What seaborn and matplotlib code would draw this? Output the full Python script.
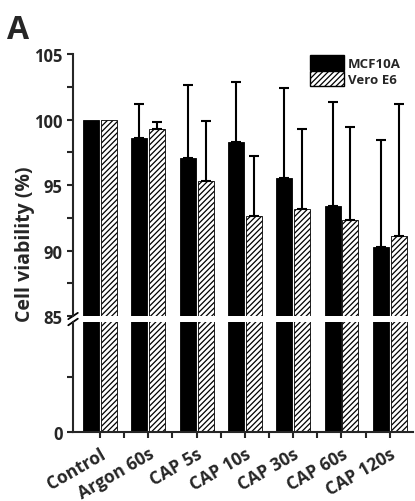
"""
Viabilité cellulaire après traitement plasma (CAP) - barres à axe coupé
"""

import numpy as np
import pandas as pd
import matplotlib
matplotlib.use("Agg")
import matplotlib.pyplot as plt
from matplotlib.patches import Patch
import seaborn as sns

# Données
groupes = ["Control", "Argon 60s", "CAP 5s", "CAP 10s", "CAP 30s", "CAP 60s", "CAP 120s"]
lignees = ["MCF10A", "Vero E6"]
viab_mcf10a = [100.0, 98.6, 97.1, 98.3, 95.5, 93.4, 90.3]
viab_vero = [100.0, 99.3, 95.3, 92.6, 93.2, 92.3, 91.1]
err_mcf10a = [0.0, 2.6, 5.5, 4.6, 6.9, 7.9, 8.1]
err_vero = [0.0, 0.5, 4.6, 4.6, 6.1, 7.1, 10.1]

df = pd.DataFrame({
    "groupe": groupes * 2,
    "lignee": [lignees[0]] * len(groupes) + [lignees[1]] * len(groupes),
    "viabilite": viab_mcf10a + viab_vero,
})

sns.set_style("ticks")
plt.rcParams["font.family"] = ["Open Sans", "DejaVu Sans"]
plt.rcParams["font.weight"] = "bold"
plt.rcParams["hatch.linewidth"] = 0.9
plt.rcParams["hatch.color"] = "black"

fig = plt.figure(figsize=(4.15, 5.02), dpi=100)
ax_haut = fig.add_axes([0.176, 0.3685, 0.819, 0.5219])
ax_bas = fig.add_axes([0.176, 0.1375, 0.819, 0.2191])

# erreurs entrelacées dans l'ordre des barres triées par x
erreurs = [e for paire in zip(err_mcf10a, err_vero) for e in paire]

for ax in (ax_haut, ax_bas):
    sns.barplot(data=df, x="groupe", y="viabilite", hue="lignee",
                order=groupes, hue_order=lignees, palette=["black", "white"],
                width=0.74, gap=0.1, errorbar=None, edgecolor="black",
                linewidth=0.6, legend=False, ax=ax)
    barres = sorted(ax.patches, key=lambda p: p.get_x())
    for i, p in enumerate(barres):
        if i % 2 == 1:
            p.set_hatch("//////")
    ax.set_xlim(-0.56, 6.48)
    ax.set_xlabel("")
    ax.set_ylabel("")
    for s in ["top", "right"]:
        ax.spines[s].set_visible(False)
    ax.spines["left"].set_linewidth(1.5)
    ax.spines["bottom"].set_linewidth(1.5)
    ax.tick_params(axis="y", which="both", width=1.5, length=4, labelsize=12)

# barres d'erreur (seulement vers le haut)
barres = sorted(ax_haut.patches, key=lambda p: p.get_x())
xs = [p.get_x() + p.get_width() / 2 for p in barres]
ys = [p.get_height() for p in barres]
garder = [i for i, e in enumerate(erreurs) if e > 0]
ax_haut.errorbar([xs[i] for i in garder], [ys[i] for i in garder],
                 yerr=[np.zeros(len(garder)), [erreurs[i] for i in garder]],
                 fmt="none", ecolor="black", elinewidth=1.5, capsize=3.6,
                 capthick=1.5, zorder=1)

# axe du haut
ax_haut.set_ylim(85, 105)
ax_haut.set_yticks([85, 90, 95, 100, 105])
ax_haut.set_yticks([87.5, 92.5, 97.5, 102.5], minor=True)
ax_haut.spines["bottom"].set_visible(False)
ax_haut.tick_params(axis="x", which="both", bottom=False, labelbottom=False)

# axe du bas
ax_bas.set_ylim(0, 85)
ax_bas.set_yticks([0])
ax_bas.set_yticks([42.5], minor=True)
ax_bas.set_xticks(range(len(groupes)))
ax_bas.set_xticks(np.arange(0.5, len(groupes) - 0.5, 1), minor=True)
ax_bas.tick_params(axis="x", which="both", width=1.5, length=4, pad=5)
ax_bas.set_xticklabels(groupes, rotation=30, ha="right", rotation_mode="anchor",
                       fontsize=12.5, fontweight="bold")

# marques de coupure sur l'axe y
kw = dict(color="black", lw=1.3, clip_on=False)
ax_haut.plot([-0.014, 0.014], [-0.012, 0.012], transform=ax_haut.transAxes, **kw)
ax_bas.plot([-0.014, 0.014], [0.97, 1.03], transform=ax_bas.transAxes, **kw)

# légende
poignees = [Patch(facecolor="black", edgecolor="black"),
            Patch(facecolor="white", edgecolor="black", hatch="//////")]
ax_haut.legend(poignees, lignees, loc="upper right", bbox_to_anchor=(0.98, 1.015),
               frameon=False, prop={"size": 9.5, "weight": "bold"},
               handlelength=2.6, handleheight=1.35, labelspacing=0.1,
               handletextpad=0.3, borderaxespad=0)

fig.text(0.06, 0.514, "Cell viability (%)", rotation=90, ha="center", va="center",
         fontsize=14, fontweight="bold")
fig.text(0.018, 0.972, "A", fontsize=23, fontweight="bold", va="top", ha="left")

fig.savefig("out.png", dpi=100)
